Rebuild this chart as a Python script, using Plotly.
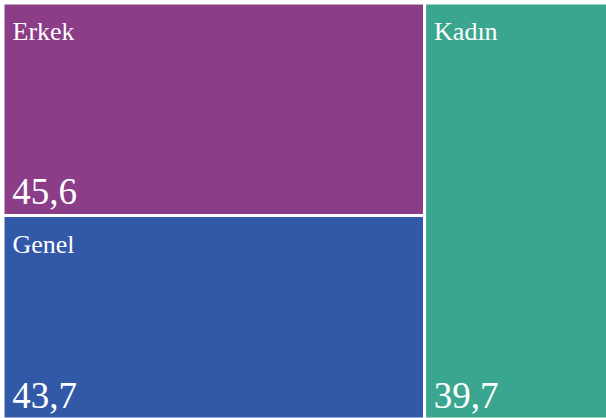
import plotly.graph_objects as go

# veri
labels = ["Erkek", "Genel", "Kadın"]
parents = ["", "", ""]
values = [45.6, 43.7, 39.7]
colors = ["#8B3D88", "#3258A8", "#3AA68F"]

serif = "Liberation Serif, Times New Roman, serif"
no_pad = dict(t=0, l=0, r=0, b=0)
tiling = dict(packing="squarify", squarifyratio=1.618, pad=0)

fig = go.Figure()

# kutular + etiketler (sol üst)
# boş ilk satır etiketi biraz aşağı itiyor
fig.add_trace(go.Treemap(
    labels=labels, parents=parents, values=values,
    sort=True,
    domain=dict(x=[0, 1], y=[0, 1]),
    tiling=tiling,
    marker=dict(colors=colors, line=dict(color="white", width=3), pad=no_pad),
    texttemplate="&nbsp;<br><span style='font-size:26px'>&nbsp;%{label}</span>",
    textposition="top left",
    textfont=dict(family=serif, size=15.5, color="white"),
    pathbar=dict(visible=False),
    hoverinfo="label+value",
))

# değerler (sol alt), şeffaf kutular
fig.add_trace(go.Treemap(
    labels=labels, parents=parents, values=values,
    sort=True,
    domain=dict(x=[0, 1], y=[0, 1]),
    tiling=tiling,
    marker=dict(colors=["rgba(0,0,0,0)"] * 3, line=dict(width=0), pad=no_pad),
    texttemplate="&#8198;%{value}",
    textposition="bottom left",
    textfont=dict(family=serif, size=37, color="white"),
    pathbar=dict(visible=False),
    hoverinfo="skip",
))

fig.update_layout(
    width=612, height=419,
    separators=",.",
    margin=dict(l=3, r=0, t=3, b=0),
    paper_bgcolor="white",
)

fig.write_html(
    "out.html",
    config={"displayModeBar": False},
    post_script="document.body.style.margin='0';document.body.style.overflow='hidden';",
)
